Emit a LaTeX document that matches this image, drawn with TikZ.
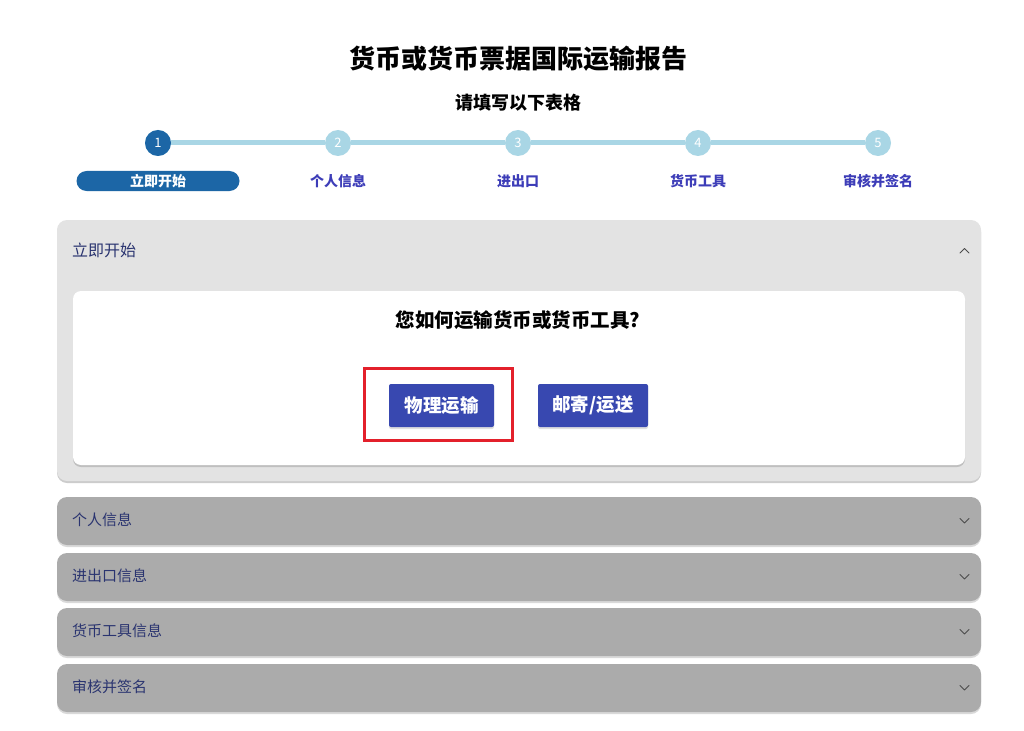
\documentclass[tikz,border=0pt]{standalone}
\usepackage{fontspec}
\usepackage{tikz}
\usetikzlibrary{positioning, shadows}
\newfontfamily\cjk{Noto Sans CJK SC}

\definecolor{stepdark}{HTML}{1C66A6}
\definecolor{steplight}{HTML}{A9D6E5}
\definecolor{steptext}{HTML}{3D3DB8}
\definecolor{navy}{HTML}{2A3470}
\definecolor{panellight}{HTML}{E3E3E3}
\definecolor{paneldark}{HTML}{ABABAB}
\definecolor{btnblue}{HTML}{3848B0}
\definecolor{markred}{HTML}{E3202B}

\begin{document}
\begin{tikzpicture}[x=1pt, y=-1pt,
  every node/.style={font=\cjk, inner sep=0pt},
  stepdot/.style={circle, minimum size=26pt, fill=steplight, text=white, font=\cjk\fontsize{13}{14}\selectfont},
  steplabel/.style={text=steptext, font=\cjk\bfseries\fontsize{14}{15}\selectfont},
  paneltitle/.style={anchor=west, text=navy, font=\cjk\fontsize{15}{17}\selectfont},
  btn/.style={fill=btnblue, text=white, rounded corners=2pt, minimum height=43pt,
    font=\cjk\bfseries\fontsize{18.5}{20}\selectfont,
    drop shadow={shadow xshift=0pt, shadow yshift=-2pt, opacity=0.25}},
  chev/.style={draw=black!70, line width=1pt, line cap=round, line join=round}]
\useasboundingbox (0,0) rectangle (1024,730);
\fill[white] (0,0) rectangle (1024,730);

% heading
\node (title) at (518,59) {\bfseries\fontsize{26}{30}\selectfont 货币或货币票据国际运输报告};
\node (sub) at (518,103) {\bfseries\fontsize{18}{20}\selectfont 请填写以下表格};

% stepper
\foreach \i/\x in {1/158, 2/338, 3/518, 4/698, 5/878}
  \node[stepdot] (s\i) at (\x,143) {\i};
\node[stepdot, fill=stepdark] at (s1) {1};
\foreach \a/\b in {1/2, 2/3, 3/4, 4/5}
  \draw[steplight, line width=5pt] (s\a) -- (s\b);
\node[steplabel, fill=stepdark, text=white, rounded corners=10pt, minimum width=163pt, minimum height=20pt] (l1) at (158,181) {立即开始};
\node[steplabel] (l2) at (338,181) {个人信息};
\node[steplabel] (l3) at (518,181) {进出口};
\node[steplabel] (l4) at (698,181) {货币工具};
\node[steplabel] (l5) at (878,181) {审核并签名};

% open panel
\fill[black!20, rounded corners=10pt] (57,222) rectangle (981,483);
\fill[panellight, rounded corners=10pt] (57,220) rectangle (981,481);
\node[paneltitle, font=\cjk\fontsize{16}{18}\selectfont] (p0) at (72,250) {立即开始};
\draw[chev] (960,253) -- (964.5,248.5) -- (969,253);
\fill[black!25, rounded corners=8pt] (73,293) rectangle (965,467);
\fill[white, rounded corners=8pt] (73,291) rectangle (965,465);
\node (ask) at (518,320) {\bfseries\fontsize{19.5}{22}\selectfont 您如何运输货币或货币工具?};
\node[draw=markred, line width=3pt, minimum width=148pt, minimum height=72pt] (mark) at (438,404) {};
\node[btn, minimum width=105pt] (b1) at (441.5,405.5) {物理运输};
\node[btn, minimum width=110pt] (b2) at (593,405.5) {邮寄/运送};

% closed panels
\foreach \y/\t [count=\k] in {497/个人信息, 553/进出口信息, 608/货币工具信息, 664/审核并签名} {
  \fill[black!15, rounded corners=10pt] (57,\y+2) rectangle (981,\y+50);
  \fill[paneldark, rounded corners=10pt] (57,\y) rectangle (981,\y+48);
  \node[paneltitle] (p\k) at (72,\y+23) {\t};
  \draw[chev] (960,\y+21.5) -- (964.5,\y+26) -- (969,\y+21.5);
}
\end{tikzpicture}
\end{document}
